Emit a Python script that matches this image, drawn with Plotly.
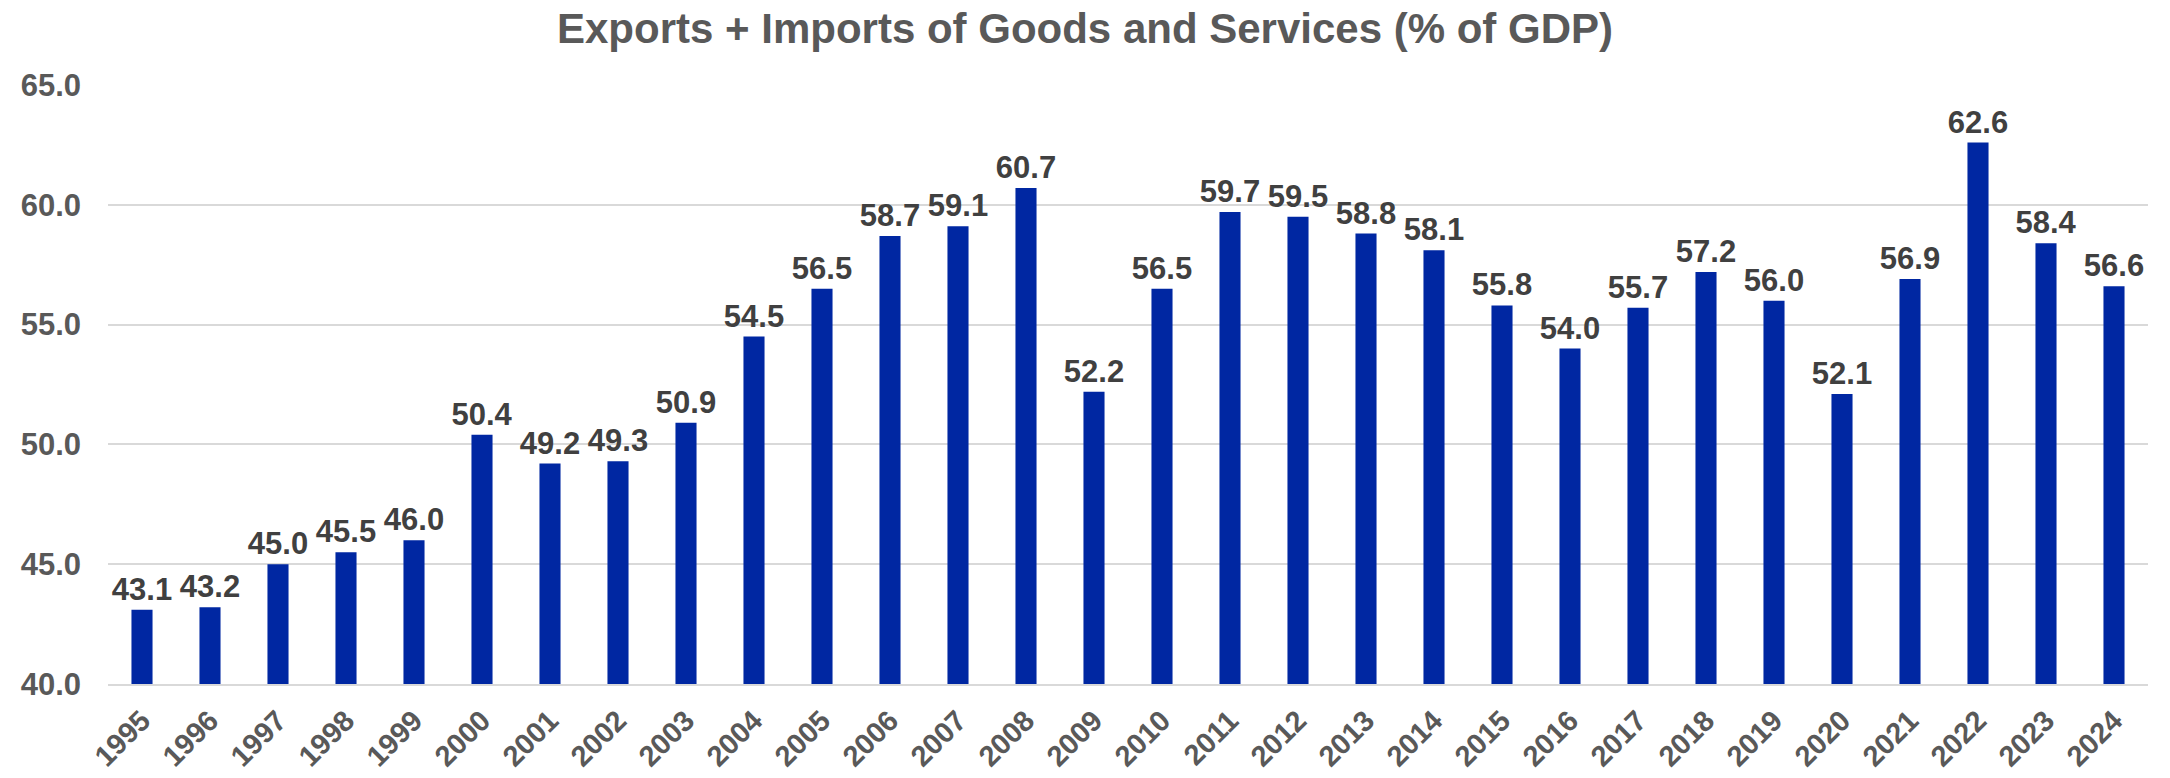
import plotly.graph_objects as go

years = [str(y) for y in range(1995, 2025)]
trade_pct_gdp = [43.1, 43.2, 45.0, 45.5, 46.0, 50.4, 49.2, 49.3, 50.9, 54.5,
                 56.5, 58.7, 59.1, 60.7, 52.2, 56.5, 59.7, 59.5, 58.8, 58.1,
                 55.8, 54.0, 55.7, 57.2, 56.0, 52.1, 56.9, 62.6, 58.4, 56.6]
y_ticks = [40, 45, 50, 55, 60, 65]

font_family = "Arial, 'Liberation Sans', sans-serif"

fig = go.Figure()

fig.add_trace(go.Bar(
    x=years,
    y=trade_pct_gdp,
    marker=dict(color='#0027A2', line=dict(width=0)),
    text=[f"{v:.1f}" for v in trade_pct_gdp],
    textposition='outside',
    constraintext='none',
    textfont=dict(family=font_family, size=31, color='#404040', weight='bold'),
    cliponaxis=False,
    hovertemplate='%{x}: %{y:.1f}%<extra></extra>'
))

fig.update_layout(
    title=dict(
        text='Exports + Imports of Goods and Services (% of GDP)',
        x=0.5, xanchor='center', y=0.963, yanchor='middle',
        font=dict(family=font_family, size=42, color='#595959', weight='bold')
    ),
    width=2170,
    height=778,
    margin=dict(l=108, r=22, t=85, b=94),
    plot_bgcolor='white',
    paper_bgcolor='white',
    bargap=0.69,
    showlegend=False,
    xaxis=dict(
        tickangle=-45,
        tickfont=dict(family=font_family, size=29, color='#595959', weight='bold'),
        showgrid=False,
        showline=True,
        linecolor='#d9d9d9',
        linewidth=2,
        ticks='',
        ticklabelstandoff=6,
        automargin=False,
    ),
    yaxis=dict(
        range=[40, 65],
        tickvals=y_ticks,
        tickformat='.1f',
        tickfont=dict(family=font_family, size=31, color='#595959', weight='bold'),
        showgrid=True,
        gridcolor='#d9d9d9',
        gridwidth=1.5,
        zeroline=False,
        ticks='',
        ticklabelstandoff=26,
        automargin=False,
    ),
)

# drop the default page margin so the figure sits at the window's corner
fig.write_html("out.html", config={'displayModeBar': False},
               post_script="document.body.style.margin='0';")
